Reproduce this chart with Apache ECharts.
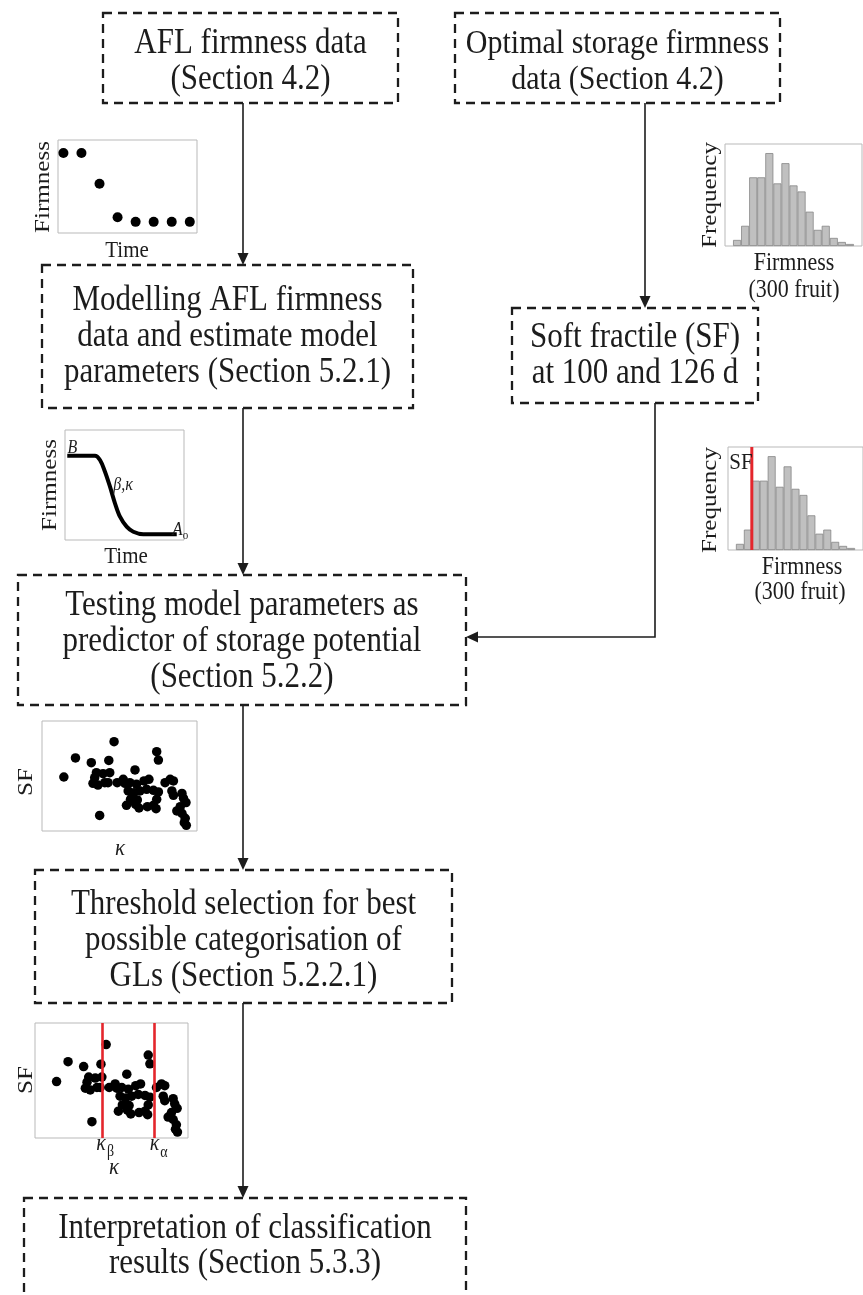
<!DOCTYPE html>
<html><head><meta charset="utf-8">
<script src="https://cdn.jsdelivr.net/npm/echarts@6/dist/echarts.min.js"></script>
<style>html,body{margin:0;padding:0;background:#fff}#c{width:863px;height:1295px}</style>
</head><body><div id="c"></div>
<script>
// ---------- data ----------
const aflTime = [0, 1, 2, 3, 4, 5, 6, 7];
const aflFirmness = [8.6, 8.6, 5.3, 1.7, 1.2, 1.2, 1.2, 1.2];

const histBins = ['b1','b2','b3','b4','b5','b6','b7','b8','b9','b10','b11','b12','b13','b14','b15'];
const histCounts = [3, 10, 34, 34, 46, 31, 41, 30, 27, 17, 8, 10, 4, 2, 1];
const softFractileBin = 3; // SF boundary, in bin units (incl. one empty bin of padding)

const curveTime = [1.9, 25.2, 29.4, 33.6, 37.8, 42.0, 46.2, 51.8, 57.4, 65.8, 93.9];
const curveFirmness = [76.6, 76.6, 72.7, 62.1, 48.5, 33.4, 21.2, 12.1, 7.5, 5.2, 5.2];

const kappaValues = [14.1,21.6,31.8,43.1,46.5,37.2,35.1,39.4,43.7,32.9,36.1,40.5,42.6,34.0,60.0,52.4,53.5,56.7,61.0,65.8,69.0,55.6,59.3,63.2,67.5,71.9,75.1,57.1,61.5,74.0,54.5,60.4,62.6,68.0,71.9,73.6,74.0,75.1,79.4,82.7,84.8,83.8,84.8,90.3,91.3,92.9,89.2,87.0,90.3,92.4,93.1,91.8,48.5];
const sfValues    = [49.1,66.4,62.1,64.2,81.2,14.2,53.0,52.1,53.0,43.3,41.8,43.9,43.9,48.5,55.5,47.0,43.3,43.9,42.4,45.5,47.0,36.4,34.8,36.4,37.9,37.0,35.5,28.8,28.2,28.8,23.3,24.2,20.9,22.1,23.3,20.3,72.1,64.5,43.9,47.0,45.5,36.4,32.4,34.2,29.7,25.8,22.1,18.2,16.1,11.5,5.2,7.6,43.9];
const kappaBeta = 43.7;
const kappaAlpha = 78.0;

// ---------- styling ----------
const SERIF = '"Liberation Serif","Times New Roman",serif';
const INK = '#1c1c1c';
const RED = '#e4262c';
const STRETCH = 1.14; // reference text is slightly taller than wide

const chart = echarts.init(document.getElementById('c'));

const pts = (xs, ys) => xs.map((x, i) => [x, ys[i]]);
const padCats = ['p0', ...histBins, 'p1'];
const padCounts = [null, ...histCounts, null];

const hidden = {axisLine:{show:false}, axisLabel:{show:false}, splitLine:{show:false}, axisTick:{show:false}};
const gridBase = {show:true, borderColor:'#b9b9b9', borderWidth:1, backgroundColor:'#fff', containLabel:false};

// ---------- graphic helpers (layout only) ----------
const G = [];
function box(x, y, w, h) {
  G.push({type:'rect', shape:{x, y, width:w, height:h},
    style:{fill:'none', stroke:INK, lineWidth:2.3, lineDash:[9, 6]}, z:10});
}
function label(x, y, text, size, opt = {}) {
  const lh = (opt.lh || size * 1.15) / STRETCH;
  G.push(Object.assign({type:'text', x, y, z:20, scaleY:STRETCH,
    style:Object.assign({text, font:(opt.italic ? 'italic ' : '') + size + 'px ' + SERIF,
      fill:INK, align:'center', verticalAlign:'middle', textAlign:'center', textVerticalAlign:'middle',
      lineHeight: lh}, opt.style || {})}, opt.el || {}));
}
function vlabel(x, y, text, size) { label(x, y, text, size, {el:{rotation:Math.PI / 2, scaleX:STRETCH, scaleY:1}}); }
function arrowDown(x, y1, y2) {
  G.push({type:'polyline', shape:{points:[[x, y1], [x, y2 - 10]]}, style:{stroke:INK, lineWidth:1.6, fill:'none'}, z:10});
  G.push({type:'polygon', shape:{points:[[x - 5.5, y2 - 12], [x + 5.5, y2 - 12], [x, y2]]}, style:{fill:INK}, z:10});
}

// boxes + texts
box(103, 13, 295, 90);   label(250.5, 62, 'AFL firmness data\n(Section 4.2)', 31, {lh:36});
box(455, 13, 325, 90);   label(617.5, 62, 'Optimal storage firmness\ndata (Section 4.2)', 30, {lh:36});
box(42, 265, 371, 143);  label(227.5, 337, 'Modelling AFL firmness\ndata and estimate model\nparameters (Section 5.2.1)', 31, {lh:36});
box(512, 308, 246, 95);  label(635, 356, 'Soft fractile (SF)\nat 100 and 126 d', 31, {lh:36});
box(18, 575, 448, 130);  label(242, 642, 'Testing model parameters as\npredictor of storage potential\n(Section 5.2.2)', 31, {lh:36});
box(35, 870, 417, 133);  label(243.5, 941, 'Threshold selection for best\npossible categorisation of\nGLs (Section 5.2.2.1)', 31, {lh:36});
box(24, 1198, 442, 100); label(245, 1246, 'Interpretation of classification\nresults (Section 5.3.3)', 31, {lh:35});

// arrows
arrowDown(243, 103, 265);
arrowDown(645, 103, 308);
arrowDown(243, 408, 575);
arrowDown(243, 705, 870);
arrowDown(243, 1003, 1198);
G.push({type:'polyline', shape:{points:[[655, 403], [655, 637], [477, 637]]}, style:{stroke:INK, lineWidth:1.6, fill:'none'}, z:10});
G.push({type:'polygon', shape:{points:[[478, 631.5], [478, 642.5], [466, 637]]}, style:{fill:INK}, z:10});

// inset axis titles
vlabel(43, 187, 'Firmness', 22);  label(127, 251, 'Time', 21);
vlabel(710, 195, 'Frequency', 22); label(794, 263, 'Firmness', 22); label(794, 290, '(300 fruit)', 22);
vlabel(50, 485, 'Firmness', 22);  label(126, 557, 'Time', 21);
label(72.5, 448, 'B', 16, {italic:true});
label(123, 485, 'β,κ', 16, {italic:true});
label(177.5, 530, 'A', 17, {italic:true});
label(185.5, 536, 'o', 11);
vlabel(710, 500, 'Frequency', 22); label(802, 567, 'Firmness', 22); label(800, 592, '(300 fruit)', 22);
label(741, 463, 'SF', 21);
vlabel(26, 782, 'SF', 22);  label(120, 849, 'κ', 21, {italic:true});
vlabel(26, 1080, 'SF', 22);
label(101, 1144, 'κ', 20, {italic:true}); label(110.5, 1152, 'β', 14);
label(154.5, 1144, 'κ', 20, {italic:true}); label(164, 1153, 'α', 14);
label(114, 1168, 'κ', 21, {italic:true});

const dot = {color:'#000', opacity:1};

chart.setOption({
  animation:false,
  backgroundColor:'#fff',
  grid:[
    Object.assign({left:58, top:140, width:139, height:93}, gridBase),
    Object.assign({left:725, top:144, width:137, height:102}, gridBase),
    Object.assign({left:65, top:430, width:119, height:110}, gridBase),
    Object.assign({left:728, top:447, width:150, height:103}, gridBase),
    Object.assign({left:42, top:721, width:155, height:110}, gridBase),
    Object.assign({left:35, top:1023, width:153, height:115}, gridBase)
  ],
  xAxis:[
    Object.assign({type:'value', gridIndex:0, min:-0.3, max:7.4}, hidden),
    Object.assign({type:'category', gridIndex:1, data:padCats, boundaryGap:true}, hidden),
    Object.assign({type:'value', gridIndex:2, min:0, max:100}, hidden),
    Object.assign({type:'category', gridIndex:3, data:padCats, boundaryGap:true}, hidden),
    Object.assign({type:'value', gridIndex:3, min:0, max:padCats.length, show:false}, hidden),
    Object.assign({type:'value', gridIndex:4, min:0, max:100}, hidden),
    Object.assign({type:'value', gridIndex:5, min:0, max:100}, hidden)
  ],
  yAxis:[
    Object.assign({type:'value', gridIndex:0, min:0, max:10}, hidden),
    Object.assign({type:'value', gridIndex:1, min:0, max:50.5}, hidden),
    Object.assign({type:'value', gridIndex:2, min:0, max:100}, hidden),
    Object.assign({type:'value', gridIndex:3, min:0, max:50.5}, hidden),
    Object.assign({type:'value', gridIndex:4, min:0, max:100}, hidden),
    Object.assign({type:'value', gridIndex:5, min:0, max:100}, hidden)
  ],
  series:[
    {type:'scatter', xAxisIndex:0, yAxisIndex:0, data:pts(aflTime, aflFirmness), symbolSize:10, itemStyle:dot},
    {type:'bar', xAxisIndex:1, yAxisIndex:1, data:padCounts, barCategoryGap:'0%',
      itemStyle:{color:'#c0c0c0', borderColor:'#858585', borderWidth:0.8}},
    {type:'line', xAxisIndex:2, yAxisIndex:2, data:pts(curveTime, curveFirmness), smooth:0.35, showSymbol:false,
      lineStyle:{color:'#000', width:4}},
    {type:'bar', xAxisIndex:3, yAxisIndex:3, data:padCounts, barCategoryGap:'0%',
      itemStyle:{color:'#c0c0c0', borderColor:'#858585', borderWidth:0.8}},
    {type:'line', xAxisIndex:4, yAxisIndex:3, data:[[softFractileBin, 0], [softFractileBin, 50.5]], showSymbol:false,
      lineStyle:{color:RED, width:3}, z:5},
    {type:'scatter', xAxisIndex:5, yAxisIndex:4, data:pts(kappaValues, sfValues), symbolSize:9.5, itemStyle:dot},
    {type:'scatter', xAxisIndex:6, yAxisIndex:5, data:pts(kappaValues, sfValues), symbolSize:9.5, itemStyle:dot,
      markLine:{silent:true, symbol:['none','none'], label:{show:false},
        lineStyle:{color:RED, width:2.6, type:'solid', opacity:1},
        data:[{xAxis:kappaBeta}, {xAxis:kappaAlpha}]}}
  ],
  graphic:{elements:G}
});
</script>
</body></html>
